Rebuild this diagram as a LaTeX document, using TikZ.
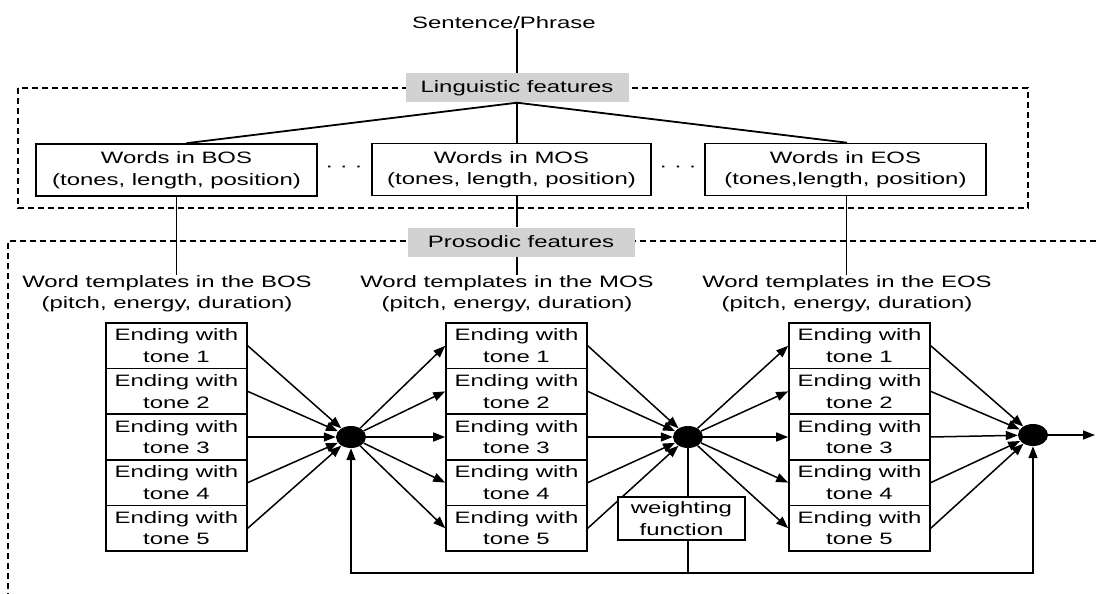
\documentclass[tikz,border=0pt]{standalone}
\usepackage{fontspec}
\setmainfont{Liberation Sans}[FakeStretch=1.45]
\usetikzlibrary{arrows.meta,shapes.geometric,calc}
\begin{document}
\begin{tikzpicture}[x=1pt,y=-1pt,
  every node/.style={font=\fontsize{16.5}{21.5}\selectfont, inner sep=0pt},
  ebox/.style={draw, line width=1.6pt, minimum width=141pt, minimum height=45.6pt, align=center, fill=white},
  wbox/.style={draw, line width=1.6pt, minimum height=52pt, align=center, fill=white},
  lab/.style={fill=gray!35, minimum height=29pt},
  dsh/.style={dash pattern=on 6pt off 4pt, line width=1.5pt},
  arr/.style={line width=1.5pt, -{Triangle[length=12pt,width=9pt]}},
  junc/.style={ellipse, fill=black, minimum width=30pt, minimum height=22pt},
  ln/.style={line width=1.2pt},
  fan/.style={line width=1.8pt},
  tmpl/.style={align=center}
]
\useasboundingbox (0,0) rectangle (1096,594);

% dashed frames
\draw[dsh] (18,88) rectangle (1028,208);
\draw[dsh] (1096,241) -- (8,241) -- (8,594);

% top
\node (sent) at (504,23) {Sentence/Phrase};
\node[lab, minimum width=223pt] (ling) at (517,88) {Linguistic features};
\draw[ln] (sent.south -| ling.north) -- (ling.north);

% word boxes
\node[wbox, minimum width=281pt] (bos) at (176.5,170) {Words in BOS\\(tones, length, position)};
\node[wbox, minimum width=279pt] (mos) at (511.5,169.5) {Words in MOS\\(tones, length, position)};
\node[wbox, minimum width=281pt] (eos) at (845.5,169.5) {Words in EOS\\(tones,length, position)};
\node (dots1) at (344,169) {· · ·};
\node (dots2) at (678,169) {· · ·};

\draw[fan] (ling.south) -- ([xshift=10pt]bos.north);
\draw[fan] (ling.south) -- (ling.south |- mos.north);
\draw[fan] (ling.south) -- ([xshift=1.5pt]eos.north);

% prosodic
\node[lab, minimum width=227pt] (pros) at (521,242) {Prosodic features};

\node[tmpl] (tb) at (167,293.5) {Word templates in the BOS\\(pitch, energy, duration)};
\node[tmpl] (tm) at (507,293.5) {Word templates in the MOS\\(pitch, energy, duration)};
\node[tmpl] (te) at (847,293.5) {Word templates in the EOS\\(pitch, energy, duration)};

\draw[ln] (bos.south) -- (bos.south |- tb.north);
\draw[ln] (ling.south |- mos.south) -- (ling.south |- pros.north);
\draw[ln] (ling.south |- pros.south) -- (ling.south |- tm.north);
\draw[ln] ([xshift=1pt]eos.south) -- ([xshift=1pt]eos.south |- te.north);

% ending boxes
\foreach \i in {1,...,5}{
  \node[ebox] (b\i) at (176.5,{345.8+45.6*(\i-1)}) {Ending with\\tone \i};
  \node[ebox] (m\i) at (516.5,{345.8+45.6*(\i-1)}) {Ending with\\tone \i};
  \node[ebox] (e\i) at (859.5,{345.8+45.6*(\i-1)}) {Ending with\\tone \i};
}

% junctions
\node[junc] (j1) at (351,437) {};
\node[junc] (j2) at (688,437) {};
\node[junc] (j3) at (1033,435) {};
\coordinate (out) at (1095,435);
\coordinate (fb) at (0,573);

\foreach \i in {1,...,5}{
  \draw[arr] (b\i.east) -- (j1);
  \draw[arr] (j1) -- (m\i.west);
  \draw[arr] (m\i.east) -- (j2);
  \draw[arr] (j2) -- (e\i.west);
  \draw[arr] (e\i.east) -- (j3);
}
\draw[arr] (j3) -- (out);

% weighting
\node[draw, line width=1.6pt, fill=white, minimum width=127pt, minimum height=43pt, align=center] (w) at (681.5,518.5) {weighting\\function};
\draw[ln] (j2) -- (j2 |- w.north);
\draw[line width=1.5pt] (j2 |- w.south) -- (j2 |- fb);
\draw[arr] (j2 |- fb) -| (j1);
\draw[arr] (j2 |- fb) -| (j3);
\end{tikzpicture}
\end{document}
